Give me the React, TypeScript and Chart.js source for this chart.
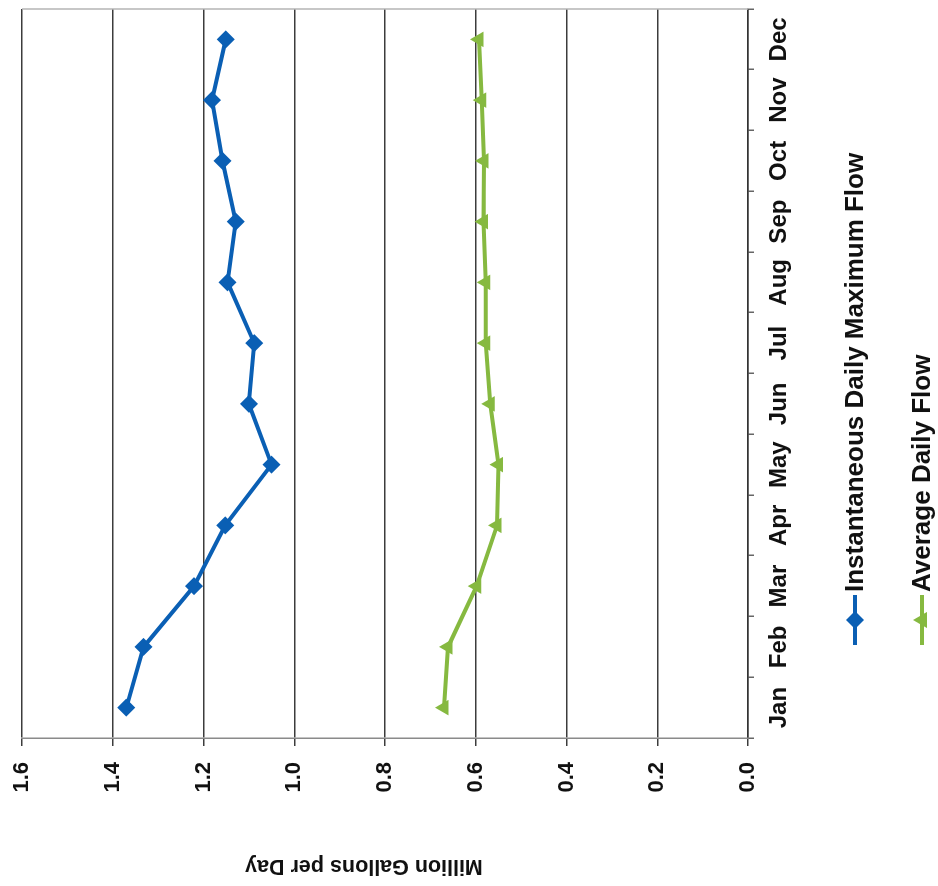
import React, { useEffect, useRef } from 'react';
import { Chart, registerables } from 'chart.js';

Chart.register(...registerables);

const months = ['Jan', 'Feb', 'Mar', 'Apr', 'May', 'Jun', 'Jul', 'Aug', 'Sep', 'Oct', 'Nov', 'Dec'];
const instantaneousMax = [1.37, 1.332, 1.221, 1.152, 1.05, 1.1, 1.088, 1.147, 1.129, 1.158, 1.181, 1.151];
const averageDaily = [0.67, 0.661, 0.598, 0.553, 0.55, 0.568, 0.578, 0.578, 0.583, 0.582, 0.587, 0.593];
const seriesNames = ['Instantaneous Daily Maximum Flow', 'Average Daily Flow'];
const yTitle = 'Million Gallons per Day';
const yMin = 0;
const yMax = 1.6;
const yStep = 0.2;

const BLUE = '#0a5fb4';
const GREEN = '#86b940';
const FONT = "'Liberation Sans', Arial, sans-serif";

// Original (unrotated) drawing size; the whole chart is turned 90° counter-clockwise.
const W = 886;
const H = 938;

const frameLegendTitle = {
  id: 'frameLegendTitle',
  beforeDatasetsDraw(chart: any) {
    const { ctx, chartArea } = chart;
    ctx.save();
    ctx.strokeStyle = '#b5b5b5';
    ctx.lineWidth = 1.5;
    ctx.beginPath();
    ctx.moveTo(chartArea.right, chartArea.top);
    ctx.lineTo(chartArea.right, chartArea.bottom);
    ctx.stroke();
    ctx.restore();
  },
  afterDraw(chart: any) {
    const { ctx, chartArea } = chart;
    // axis title (value axis), slightly below centre as in the reference
    ctx.save();
    ctx.translate(20, chartArea.top + 342);
    ctx.rotate(-Math.PI / 2);
    ctx.fillStyle = '#111';
    ctx.font = `bold 21.5px ${FONT}`;
    ctx.textAlign = 'center';
    ctx.textBaseline = 'middle';
    ctx.fillText(yTitle, 0, 0);
    ctx.restore();

    const rowYs = [chartArea.bottom + 107, chartArea.bottom + 174];
    const lineStart = chartArea.left + 93;
    const lineEnd = lineStart + 50;
    const mx = (lineStart + lineEnd) / 2;
    chart.data.datasets.forEach((ds: any, i: number) => {
      const y = rowYs[i];
      ctx.save();
      ctx.strokeStyle = ds.borderColor;
      ctx.fillStyle = ds.borderColor;
      ctx.lineWidth = 4;
      ctx.beginPath();
      ctx.moveTo(lineStart, y);
      ctx.lineTo(lineEnd, y);
      ctx.stroke();
      const r = 9;
      ctx.beginPath();
      if (ds.pointStyle === 'rectRot') {
        ctx.moveTo(mx, y - r);
        ctx.lineTo(mx + r, y);
        ctx.lineTo(mx, y + r);
        ctx.lineTo(mx - r, y);
      } else {
        ctx.moveTo(mx, y - r);
        ctx.lineTo(mx + r * 0.9, y + r * 0.55);
        ctx.lineTo(mx - r * 0.9, y + r * 0.55);
      }
      ctx.closePath();
      ctx.fill();
      ctx.fillStyle = '#111';
      ctx.font = `bold 26px ${FONT}`;
      ctx.textAlign = 'left';
      ctx.textBaseline = 'middle';
      ctx.fillText(ds.label, lineEnd + 3, y + 1);
      ctx.restore();
    });
  },
};

export default function App() {
  const canvasRef = useRef<HTMLCanvasElement | null>(null);

  useEffect(() => {
    if (!canvasRef.current) return;
    const chart = new Chart(canvasRef.current, {
      type: 'line',
      data: {
        labels: months,
        datasets: [
          {
            label: seriesNames[0],
            data: instantaneousMax,
            borderColor: BLUE,
            backgroundColor: BLUE,
            borderWidth: 4,
            pointStyle: 'rectRot',
            pointRadius: 9,
            pointBorderWidth: 0,
            pointBackgroundColor: BLUE,
          },
          {
            label: seriesNames[1],
            data: averageDaily,
            borderColor: GREEN,
            backgroundColor: GREEN,
            borderWidth: 4,
            pointStyle: 'triangle',
            pointRadius: 9,
            pointBorderWidth: 0,
            pointBackgroundColor: GREEN,
          },
        ],
      },
      options: {
        responsive: false,
        animation: false,
        layout: { padding: { top: 22, right: 6, left: 0, bottom: 0 } },
        plugins: {
          legend: { display: false },
          tooltip: { enabled: false },
        },
        scales: {
          x: {
            type: 'category',
            offset: true,
            grid: {
              offset: true,
              drawOnChartArea: false,
              drawTicks: true,
              tickLength: 6,
              color: '#666',
              lineWidth: 1.5,
            },
            border: { display: true, color: '#333', width: 1.5 },
            ticks: {
              color: '#111',
              font: { family: FONT, size: 24, weight: 'bold' },
              padding: 11,
              maxRotation: 0,
              minRotation: 0,
            },
            afterFit: (scale: any) => {
              scale.height = 190;
            },
          },
          y: {
            min: yMin,
            max: yMax,
            ticks: {
              stepSize: yStep,
              color: '#111',
              font: { family: FONT, size: 22, weight: 'bold' },
              padding: 16,
              callback: (v: any) => Number(v).toFixed(1),
            },
            grid: {
              color: '#3c3c3c',
              lineWidth: 1.5,
              tickLength: 8,
            },
            border: { display: true, color: '#8a8a8a', width: 1.5 },
            afterFit: (scale: any) => {
              scale.width = 148;
              scale.paddingTop = 0;
              scale.paddingBottom = 0;
            },
          },
        },
      },
      plugins: [frameLegendTitle],
    });
    return () => chart.destroy();
  }, []);

  return (
    <div
      style={{
        position: 'absolute',
        left: 0,
        top: 0,
        width: W,
        height: H,
        transformOrigin: '0 0',
        transform: `translateY(${W}px) rotate(-90deg)`,
        background: '#fff',
      }}
    >
      <canvas ref={canvasRef} width={W} height={H} style={{ display: 'block' }} />
    </div>
  );
}
